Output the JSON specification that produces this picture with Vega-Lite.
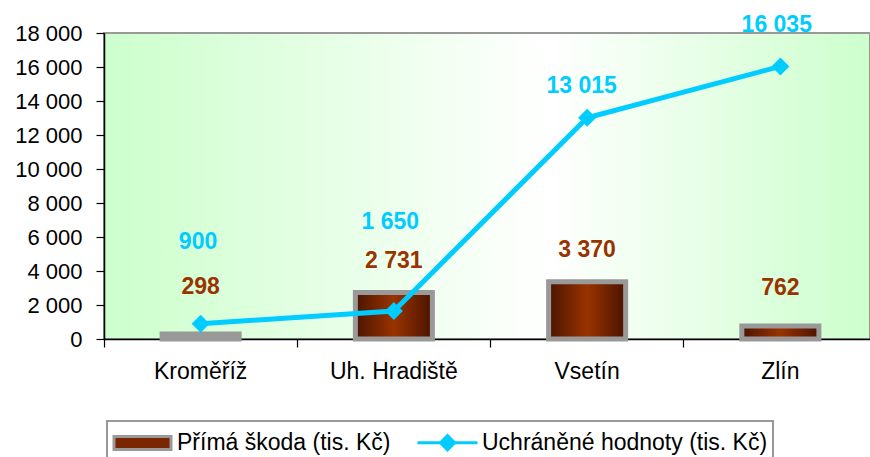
{
  "$schema": "https://vega.github.io/schema/vega-lite/v6.json",
  "width": 766,
  "height": 306,
  "autosize": {"type": "none"},
  "padding": {"left": 104, "top": 33, "right": 0, "bottom": 118},
  "background": "white",
  "data": {
    "values": [
      {"region": "Kroměříž", "skoda": 298, "uchranene": 900},
      {"region": "Uh. Hradiště", "skoda": 2731, "uchranene": 1650},
      {"region": "Vsetín", "skoda": 3370, "uchranene": 13015},
      {"region": "Zlín", "skoda": 762, "uchranene": 16035}
    ]
  },
  "encoding": {
    "x": {
      "field": "region",
      "type": "nominal",
      "sort": null,
      "title": null,
      "scale": {"range": [0, 773], "paddingInner": 0, "paddingOuter": 0},
      "axis": {"bandPosition": 0, "labelPadding": 13, "labelFontSize": 23, "labelAngle": 0}
    }
  },
  "layer": [
    {
      "mark": {
        "type": "bar",
        "width": {"band": 0.3986},
        "fill": {"gradient": "linear", "x1": 0, "y1": 0, "x2": 1, "y2": 0,
          "stops": [{"offset": 0, "color": "#4a1400"}, {"offset": 0.5, "color": "#993300"}, {"offset": 1, "color": "#4a1400"}]},
        "strokeWidth": 5
      },
      "encoding": {
        "y": {"field": "skoda", "type": "quantitative", "title": null, "scale": {"domain": [0, 18000], "nice": false}, "axis": {"format": ",d"}},
        "stroke": {
          "datum": "Přímá škoda (tis. Kč)",
          "type": "nominal",
          "scale": {"domain": ["Přímá škoda (tis. Kč)", "Uchráněné hodnoty (tis. Kč)"], "range": ["#999999", "#00ccff"]},
          "legend": {
            "orient": "none",
            "legendX": 3,
            "legendY": 388,
            "direction": "horizontal",
            "title": null,
            "labelFontSize": 23,
            "labelColor": "black",
            "labelFont": "Liberation Sans",
            "labelLimit": 500,
            "symbolSize": 900,
            "symbolStrokeWidth": 3,
            "symbolOffset": 14,
            "labelOffset": 18,
            "columnPadding": 20,
            "padding": 5,
            "strokeColor": "#999999",
            "fillColor": "white"
          }
        }
      }
    },
    {
      "mark": {"type": "line", "strokeWidth": 5},
      "encoding": {
        "y": {"field": "uchranene", "type": "quantitative", "title": null, "axis": {"format": ",d"}},
        "stroke": {"datum": "Uchráněné hodnoty (tis. Kč)", "type": "nominal"}
      }
    },
    {
      "transform": [{"filter": "false"}],
      "mark": {"type": "point", "filled": true, "opacity": 1},
      "encoding": {
        "y": {"field": "uchranene", "type": "quantitative", "title": null, "axis": {"format": ",d"}},
        "shape": {
          "datum": "Přímá škoda (tis. Kč)",
          "type": "nominal",
          "scale": {"domain": ["Přímá škoda (tis. Kč)", "Uchráněné hodnoty (tis. Kč)"], "range": ["M-1.9,-0.43H1.9V0.43H-1.9Z", "M-2,0H2M0,-0.47L0.47,0L0,0.47L-0.47,0Z"]}
        },
        "fill": {
          "datum": "Přímá škoda (tis. Kč)",
          "type": "nominal",
          "scale": {"domain": ["Přímá škoda (tis. Kč)", "Uchráněné hodnoty (tis. Kč)"], "range": ["#7a2600", "#00ccff"]}
        }
      }
    },
    {
      "mark": {"type": "point", "shape": "diamond", "filled": true, "color": "#00ccff", "size": 324, "opacity": 1},
      "encoding": {"y": {"field": "uchranene", "type": "quantitative", "title": null, "axis": {"format": ",d"}}}
    },
    {
      "transform": [{"filter": "datum.region === 'Kroměříž'"}],
      "mark": {"type": "text", "color": "#00ccff", "fontSize": 23, "fontWeight": "bold", "dy": -81.4, "dx": -2.6},
      "encoding": {"y": {"field": "uchranene", "type": "quantitative", "title": null, "axis": {"format": ",d"}}, "text": {"field": "uchranene", "type": "quantitative", "format": ",d"}}
    },
    {
      "transform": [{"filter": "datum.region === 'Uh. Hradiště'"}],
      "mark": {"type": "text", "color": "#00ccff", "fontSize": 23, "fontWeight": "bold", "dy": -89.2, "dx": -3.5},
      "encoding": {"y": {"field": "uchranene", "type": "quantitative", "title": null, "axis": {"format": ",d"}}, "text": {"field": "uchranene", "type": "quantitative", "format": ",d"}}
    },
    {
      "transform": [{"filter": "datum.region === 'Vsetín'"}],
      "mark": {"type": "text", "color": "#00ccff", "fontSize": 23, "fontWeight": "bold", "dy": -31.4, "dx": -5.4},
      "encoding": {"y": {"field": "uchranene", "type": "quantitative", "title": null, "axis": {"format": ",d"}}, "text": {"field": "uchranene", "type": "quantitative", "format": ",d"}}
    },
    {
      "transform": [{"filter": "datum.region === 'Zlín'"}],
      "mark": {"type": "text", "color": "#00ccff", "fontSize": 23, "fontWeight": "bold", "dy": -41.6, "dx": -3.6},
      "encoding": {"y": {"field": "uchranene", "type": "quantitative", "title": null, "axis": {"format": ",d"}}, "text": {"field": "uchranene", "type": "quantitative", "format": ",d"}}
    },
    {
      "transform": [{"filter": "datum.region === 'Kroměříž'"}],
      "mark": {"type": "text", "color": "#993300", "fontSize": 23, "fontWeight": "bold", "dy": -46.6},
      "encoding": {"y": {"field": "skoda", "type": "quantitative", "title": null, "axis": {"format": ",d"}}, "text": {"field": "skoda", "type": "quantitative", "format": ",d"}}
    },
    {
      "transform": [{"filter": "datum.region === 'Uh. Hradiště'"}],
      "mark": {"type": "text", "color": "#993300", "fontSize": 23, "fontWeight": "bold", "dy": -31.3},
      "encoding": {"y": {"field": "skoda", "type": "quantitative", "title": null, "axis": {"format": ",d"}}, "text": {"field": "skoda", "type": "quantitative", "format": ",d"}}
    },
    {
      "transform": [{"filter": "datum.region === 'Vsetín'"}],
      "mark": {"type": "text", "color": "#993300", "fontSize": 23, "fontWeight": "bold", "dy": -31.9},
      "encoding": {"y": {"field": "skoda", "type": "quantitative", "title": null, "axis": {"format": ",d"}}, "text": {"field": "skoda", "type": "quantitative", "format": ",d"}}
    },
    {
      "transform": [{"filter": "datum.region === 'Zlín'"}],
      "mark": {"type": "text", "color": "#993300", "fontSize": 23, "fontWeight": "bold", "dy": -37.7},
      "encoding": {"y": {"field": "skoda", "type": "quantitative", "title": null, "axis": {"format": ",d"}}, "text": {"field": "skoda", "type": "quantitative", "format": ",d"}}
    }
  ],
  "config": {
    "locale": {"number": {"decimal": ",", "thousands": " ", "grouping": [3], "currency": ["", " Kč"]}},
    "font": "Liberation Sans",
    "view": {
      "stroke": "#999999",
      "strokeWidth": 2,
      "fill": {"gradient": "linear", "x1": 0, "y1": 0, "x2": 1, "y2": 0,
        "stops": [{"offset": 0, "color": "#ccffcc"}, {"offset": 0.58, "color": "#ffffff"}, {"offset": 1, "color": "#ccffcc"}]}
    },
    "legend": {"strokeWidth": 2},
    "axis": {
      "domainColor": "black",
      "domainWidth": 1.5,
      "tickColor": "black",
      "tickWidth": 1.2,
      "tickSize": 8,
      "labelColor": "black",
      "labelFont": "Liberation Sans",
      "grid": false
    },
    "axisY": {"tickCount": 9, "labelFontSize": 22, "labelPadding": 14}
  }
}
